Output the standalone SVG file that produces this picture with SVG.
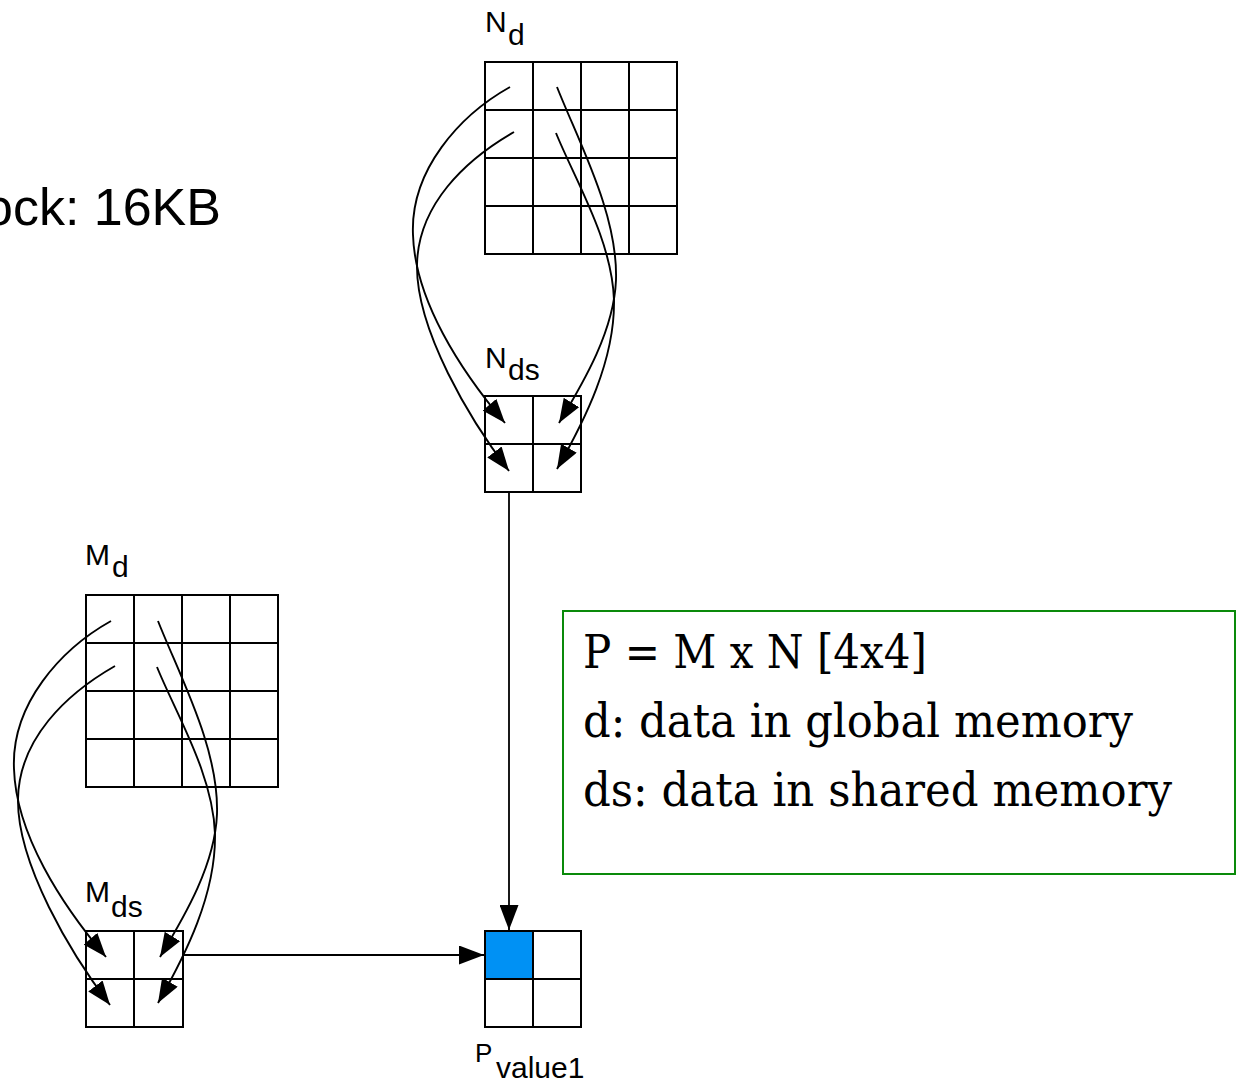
<svg xmlns="http://www.w3.org/2000/svg" width="1237" height="1083" viewBox="0 0 1237 1083">
<style>
.grid{fill:none;stroke:#000;stroke-width:2}
.lbl{font-family:"Liberation Sans",Arial,sans-serif;fill:#000}
.curve{fill:none;stroke:#000;stroke-width:1.9}
.conn{fill:none;stroke:#000;stroke-width:1.8}
.note{font-family:"DejaVu Serif","Liberation Serif",serif;font-size:46px;fill:#000}
</style>
<defs>
<marker id="ah" markerUnits="userSpaceOnUse" markerWidth="24" markerHeight="18" refX="24" refY="9" orient="auto" viewBox="0 0 24 18">
<path d="M0,0 L24,9 L0,18 z" fill="#000"/>
</marker>
<marker id="ahb" markerUnits="userSpaceOnUse" markerWidth="25" markerHeight="19" refX="25" refY="9.5" orient="auto" viewBox="0 0 25 19">
<path d="M0,0 L25,9.5 L0,19 z" fill="#000"/>
</marker>
</defs>
<rect width="1237" height="1083" fill="#fff"/>

<text class="lbl" x="221" y="225" font-size="52" text-anchor="end">ock: 16KB</text>

<g id="Nd">
<rect class="grid" x="485" y="62" width="192" height="192"/>
<path class="grid" d="M533,62V254M581,62V254M629,62V254M485,110H677M485,158H677M485,206H677"/>
<text class="lbl" x="485" y="32" font-size="30">N</text>
<text class="lbl" x="508" y="45" font-size="30">d</text>
</g>

<g id="Nds">
<rect class="grid" x="485" y="396" width="96" height="96"/>
<path class="grid" d="M533,396V492M485,444H581"/>
<text class="lbl" x="485" y="368" font-size="30">N</text>
<text class="lbl" x="508" y="380" font-size="30">ds</text>
</g>

<g id="Md">
<rect class="grid" x="86" y="595" width="192" height="192"/>
<path class="grid" d="M134,595V787M182,595V787M230,595V787M86,643H278M86,691H278M86,739H278"/>
<text class="lbl" x="85" y="565" font-size="30">M</text>
<text class="lbl" x="112" y="577" font-size="30">d</text>
</g>

<g id="Mds">
<rect class="grid" x="86" y="931" width="97" height="96"/>
<path class="grid" d="M134,931V1027M86,979H183"/>
<text class="lbl" x="85" y="902" font-size="30">M</text>
<text class="lbl" x="111" y="917" font-size="30">ds</text>
</g>

<g id="P">
<rect x="485" y="931" width="48" height="48" fill="#0091f4"/>
<rect class="grid" x="485" y="931" width="96" height="96"/>
<path class="grid" d="M533,931V1027M485,979H581"/>
<text class="lbl" x="475" y="1062" font-size="26">P</text>
<text class="lbl" x="496" y="1078" font-size="30">value1</text>
</g>

<g id="legend">
<rect x="563" y="611" width="672" height="263" fill="none" stroke="#0a8a0a" stroke-width="2"/>
<text class="note" x="583" y="668" textLength="344" lengthAdjust="spacingAndGlyphs">P = M x N [4x4]</text>
<text class="note" x="583" y="737" textLength="550" lengthAdjust="spacingAndGlyphs">d: data in global memory</text>
<text class="note" x="583" y="806" textLength="589" lengthAdjust="spacingAndGlyphs">ds: data in shared memory</text>
</g>

<g id="connectors">
<g id="n-curves">
<path class="curve" marker-end="url(#ah)" d="M510,87 C460,115 410,170 413,235 C415,300 460,370 505,423"/>
<path class="curve" marker-end="url(#ah)" d="M514,132 C465,160 418,205 417,265 C416,330 470,420 509,471"/>
<path class="curve" marker-end="url(#ah)" d="M557,87 C580,145 618,215 616,280 C614,330 585,380 559,423"/>
<path class="curve" marker-end="url(#ah)" d="M556,133 C575,180 612,240 614,300 C615,360 585,420 557,469"/>
</g>
<g id="m-curves" transform="translate(-399,534)">
<path class="curve" marker-end="url(#ah)" d="M510,87 C460,115 410,170 413,235 C415,300 460,370 505,423"/>
<path class="curve" marker-end="url(#ah)" d="M514,132 C465,160 418,205 417,265 C416,330 470,420 509,471"/>
<path class="curve" marker-end="url(#ah)" d="M557,87 C580,145 618,215 616,280 C614,330 585,380 559,423"/>
<path class="curve" marker-end="url(#ah)" d="M556,133 C575,180 612,240 614,300 C615,360 585,420 557,469"/>
</g>
<path class="conn" marker-end="url(#ahb)" d="M509,492 V930"/>
<path class="conn" marker-end="url(#ahb)" d="M183,955 H484"/>
</g>
</svg>
